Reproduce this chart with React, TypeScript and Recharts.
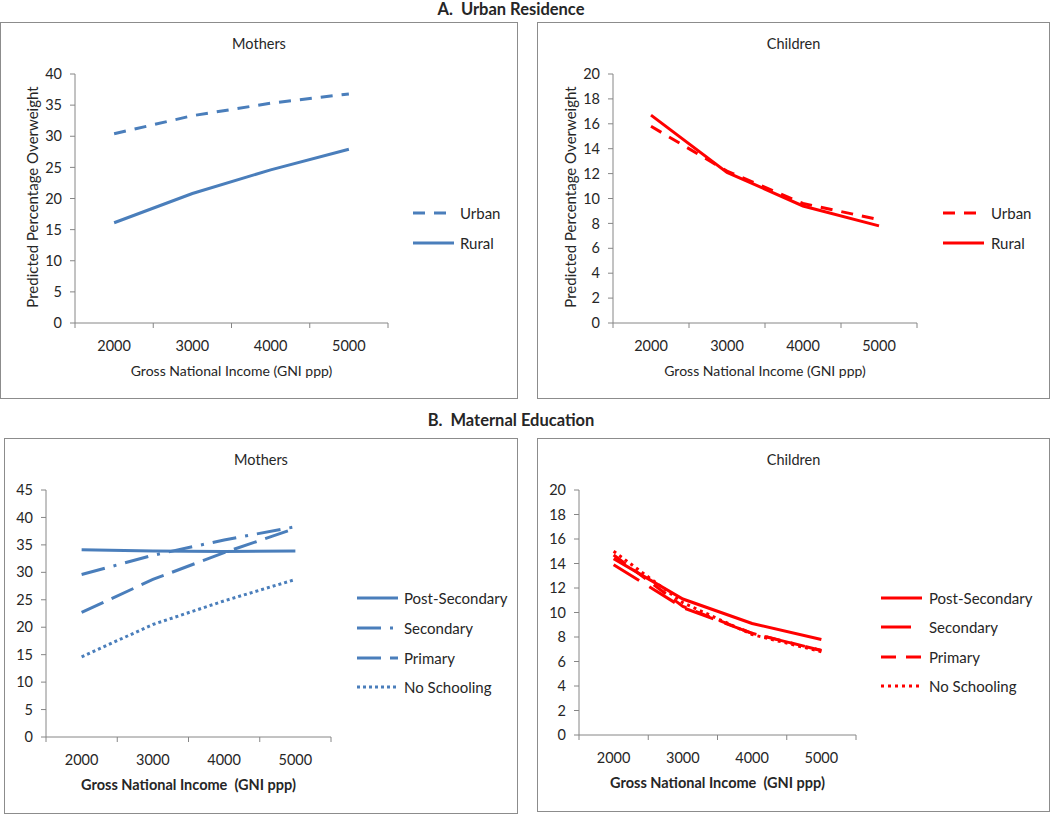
import React from "react";
import { Line, LineChart, XAxis, YAxis } from "recharts";

// GNI ppp categories shown on every x axis
const incomeLevels = [2000, 3000, 4000, 5000];

// A. Urban residence
const urbanMothers = [30.4, 33.3, 35.3, 36.8];
const ruralMothers = [16.1, 20.8, 24.6, 27.9];
const urbanChildren = [15.8, 12.2, 9.6, 8.3];
const ruralChildren = [16.7, 12.1, 9.4, 7.8];

// B. Maternal education
const postSecondaryMothers = [34.1, 33.9, 33.8, 33.9];
const secondaryMothers = [29.6, 33.1, 35.9, 38.3];
const primaryMothers = [22.7, 28.7, 33.6, 38.0];
const noSchoolingMothers = [14.6, 20.5, 24.8, 28.7];
const postSecondaryChildren = [14.4, 11.1, 9.1, 7.8];
const secondaryChildren = [13.9, 10.4, 8.3, 6.9];
const primaryChildren = [14.7, 10.5, 8.3, 6.9];
const noSchoolingChildren = [15.0, 10.8, 8.2, 6.8];

const motherTicksA = [0, 5, 10, 15, 20, 25, 30, 35, 40];
const motherTicksB = [0, 5, 10, 15, 20, 25, 30, 35, 40, 45];
const childTicks = [0, 2, 4, 6, 8, 10, 12, 14, 16, 18, 20];

const BLUE = "#4A7EBB";
const RED = "#FF0000";
const AXIS = "#868686";
const TEXT = "#262626";
const FONT = "Lato, 'Open Sans', sans-serif";

interface SeriesDef {
  name: string;
  values: number[];
  dash?: string;
}

interface PanelProps {
  box: { left: number; top: number; width: number; height: number };
  plot: { left: number; right: number; top: number; bottom: number };
  title: string;
  color: string;
  series: SeriesDef[];
  yTicks: number[];
  yLabel?: string;
  boldXTitle?: boolean;
  legend: { lineX: number; textX: number; rows: number[] };
}

const PAD_L = 60;
const PAD_T = 10;
const PAD_R = 10;
const PAD_B = 40;

function Label({
  x,
  y,
  children,
  bold,
  size = 14,
  rotate,
}: {
  x: number;
  y: number;
  children: React.ReactNode;
  bold?: boolean;
  size?: number;
  rotate?: boolean;
}) {
  return (
    <div
      style={{
        position: "absolute",
        left: x,
        top: y,
        transform: `translate(-50%, -50%)${rotate ? " rotate(-90deg)" : ""}`,
        whiteSpace: "pre",
        lineHeight: 1.2,
        fontSize: size,
        fontWeight: bold ? 700 : 400,
        color: TEXT,
      }}
    >
      {children}
    </div>
  );
}

function Panel({
  box,
  plot,
  title,
  color,
  series,
  yTicks,
  yLabel,
  boldXTitle,
  legend,
}: PanelProps) {
  const plotW = plot.right - plot.left;
  const plotH = plot.bottom - plot.top;
  const rows = incomeLevels.map((x, i) => {
    const row: Record<string, number> = { x };
    series.forEach((s) => (row[s.name] = s.values[i]));
    return row;
  });
  // tick marks sit between categories, labels at category centres
  const bounds = [incomeLevels[0] - 500, ...incomeLevels.map((v) => v + 500)];
  const xTicks = [...bounds, ...incomeLevels].sort((a, b) => a - b);

  const renderXTick = (props: any) => {
    const { x, y, payload } = props;
    if (incomeLevels.includes(payload.value)) {
      return (
        <text
          x={x}
          y={y + 22}
          textAnchor="middle"
          dominantBaseline="central"
          fontSize={14.5}
          fontFamily={FONT}
          fill={TEXT}
        >
          {payload.value}
        </text>
      );
    }
    return <line x1={x} x2={x} y1={y} y2={y + 5} stroke={AXIS} />;
  };

  return (
    <>
      <div
        style={{
          position: "absolute",
          left: box.left,
          top: box.top,
          width: box.width,
          height: box.height,
          border: "1px solid #8c8c8c",
          boxSizing: "border-box",
        }}
      />
      <Label x={box.left + box.width / 2} y={box.top + 22} size={14.5}>
        {title}
      </Label>
      <div
        style={{
          position: "absolute",
          left: plot.left - PAD_L,
          top: plot.top - PAD_T,
        }}
      >
        <LineChart
          width={plotW + PAD_L + PAD_R}
          height={plotH + PAD_T + PAD_B}
          data={rows}
          margin={{ top: PAD_T, right: PAD_R, left: 0, bottom: 0 }}
        >
          <XAxis
            dataKey="x"
            type="number"
            domain={[bounds[0], bounds[bounds.length - 1]]}
            ticks={xTicks}
            interval={0}
            tickLine={false}
            tickSize={0}
            tickMargin={0}
            tick={renderXTick}
            axisLine={{ stroke: AXIS }}
            height={PAD_B}
          />
          <YAxis
            type="number"
            domain={[0, yTicks[yTicks.length - 1]]}
            ticks={yTicks}
            interval={0}
            width={PAD_L}
            tickSize={5}
            tickMargin={8}
            axisLine={{ stroke: AXIS }}
            tickLine={{ stroke: AXIS }}
            tick={{ fill: TEXT, fontSize: 14.5, fontFamily: FONT }}
          />
          {series.map((s) => (
            <Line
              key={s.name}
              type="linear"
              dataKey={s.name}
              stroke={color}
              strokeWidth={3}
              strokeDasharray={s.dash}
              dot={false}
              activeDot={false}
              isAnimationActive={false}
            />
          ))}
        </LineChart>
      </div>
      <Label
        x={plot.left + plotW / 2}
        y={plot.bottom + 48}
        bold={boldXTitle}
        size={boldXTitle ? 14.5 : 14}
      >
        {boldXTitle ? "Gross National Income  (GNI ppp)" : "Gross National Income (GNI ppp)"}
      </Label>
      {yLabel && (
        <Label x={plot.left - 43} y={(plot.top + plot.bottom) / 2 - 2} rotate size={15}>
          {yLabel}
        </Label>
      )}
      <svg
        width={1050}
        height={814}
        style={{ position: "absolute", left: 0, top: 0, pointerEvents: "none" }}
      >
        {series.map((s, i) => (
          <g key={s.name}>
            <line
              x1={legend.lineX}
              x2={legend.lineX + 41}
              y1={legend.rows[i]}
              y2={legend.rows[i]}
              stroke={color}
              strokeWidth={3}
              strokeDasharray={s.dash}
            />
            <text
              x={legend.textX}
              y={legend.rows[i]}
              dominantBaseline="central"
              fontSize={15}
              fontFamily={FONT}
              fill={TEXT}
            >
              {s.name}
            </text>
          </g>
        ))}
      </svg>
    </>
  );
}

export default function App() {
  return (
    <div
      style={{
        position: "absolute",
        left: 0,
        top: 0,
        width: 1050,
        height: 814,
        background: "#fff",
        fontFamily: FONT,
        overflow: "hidden",
      }}
    >
      <Label x={511} y={10} bold size={16.5}>
        A.  Urban Residence
      </Label>
      <Label x={511} y={421} bold size={16.5}>
        B.  Maternal Education
      </Label>

      <Panel
        box={{ left: 0, top: 22, width: 518, height: 377 }}
        plot={{ left: 75, right: 388, top: 74, bottom: 323 }}
        title="Mothers"
        color={BLUE}
        series={[
          { name: "Urban", values: urbanMothers, dash: "12 9" },
          { name: "Rural", values: ruralMothers },
        ]}
        yTicks={motherTicksA}
        yLabel="Predicted Percentage Overweight"
        legend={{ lineX: 413, textX: 460, rows: [213, 243] }}
      />
      <Panel
        box={{ left: 537, top: 22, width: 513, height: 377 }}
        plot={{ left: 613, right: 917, top: 74, bottom: 323 }}
        title="Children"
        color={RED}
        series={[
          { name: "Urban", values: urbanChildren, dash: "12 9" },
          { name: "Rural", values: ruralChildren },
        ]}
        yTicks={childTicks}
        yLabel="Predicted Percentage Overweight"
        legend={{ lineX: 943, textX: 991, rows: [213, 243] }}
      />
      <Panel
        box={{ left: 4, top: 438, width: 514, height: 376 }}
        plot={{ left: 46, right: 331, top: 490, bottom: 737 }}
        title="Mothers"
        color={BLUE}
        series={[
          { name: "Post-Secondary", values: postSecondaryMothers },
          { name: "Secondary", values: secondaryMothers, dash: "24 9 3 9" },
          { name: "Primary", values: primaryMothers, dash: "24 9" },
          { name: "No Schooling", values: noSchoolingMothers, dash: "3 3" },
        ]}
        yTicks={motherTicksB}
        boldXTitle
        legend={{ lineX: 357, textX: 404, rows: [598, 628, 658, 687] }}
      />
      <Panel
        box={{ left: 537, top: 438, width: 513, height: 374 }}
        plot={{ left: 579, right: 856, top: 490, bottom: 735 }}
        title="Children"
        color={RED}
        series={[
          { name: "Post-Secondary", values: postSecondaryChildren },
          { name: "Secondary", values: secondaryChildren, dash: "30 12" },
          { name: "Primary", values: primaryChildren, dash: "15 10" },
          { name: "No Schooling", values: noSchoolingChildren, dash: "3 4" },
        ]}
        yTicks={childTicks}
        boldXTitle
        legend={{ lineX: 881, textX: 929, rows: [598, 627, 657, 686] }}
      />
    </div>
  );
}
